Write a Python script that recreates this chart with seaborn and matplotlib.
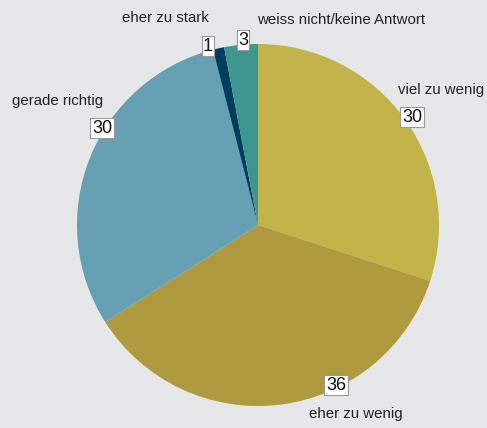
import matplotlib
matplotlib.use("Agg")
import matplotlib.pyplot as plt
import seaborn as sns

sns.set_theme(style="white")
plt.rcParams['font.family'] = ['Liberation Sans', 'DejaVu Sans']

# Data
categories = ["viel zu wenig", "eher zu wenig", "gerade richtig", "eher zu stark", "weiss nicht/keine Antwort"]
values = [30, 36, 30, 1, 3]
colors = ["#c2b448", "#b09a3f", "#65a0b4", "#003e5e", "#3e9691"]

# label placement in pixel coords (name text, value box)
name_pos = [(441, 338), (356, 14), (58, 327), (165, 410), (341, 408)]
box_pos = [(412, 311), (336, 43), (102, 300), (208, 382), (243, 388)]

bg = "#e6e7e9"
fig = plt.figure(figsize=(4.87, 4.28), dpi=100, facecolor=bg)
ax = fig.add_axes([0, 0, 1, 1])
ax.set_facecolor(bg)

ax.pie(values, colors=colors, startangle=90, counterclock=False,
       center=(258, 203), radius=181, wedgeprops=dict(linewidth=0))

for name, v, (nx, ny), (bx, by) in zip(categories, values, name_pos, box_pos):
    ax.text(nx, ny, name, ha="center", va="center", fontsize=10.8, color="#222222")
    ax.text(bx, by, str(v), ha="center", va="center", fontsize=13, color="#111111",
            bbox=dict(boxstyle="square,pad=0.08", facecolor="white", edgecolor="#999999", linewidth=0.8))

ax.set_xlim(0, 487)
ax.set_ylim(0, 428)
ax.set_aspect("equal")
ax.axis("off")

fig.savefig("out.png", dpi=100, facecolor=bg)
